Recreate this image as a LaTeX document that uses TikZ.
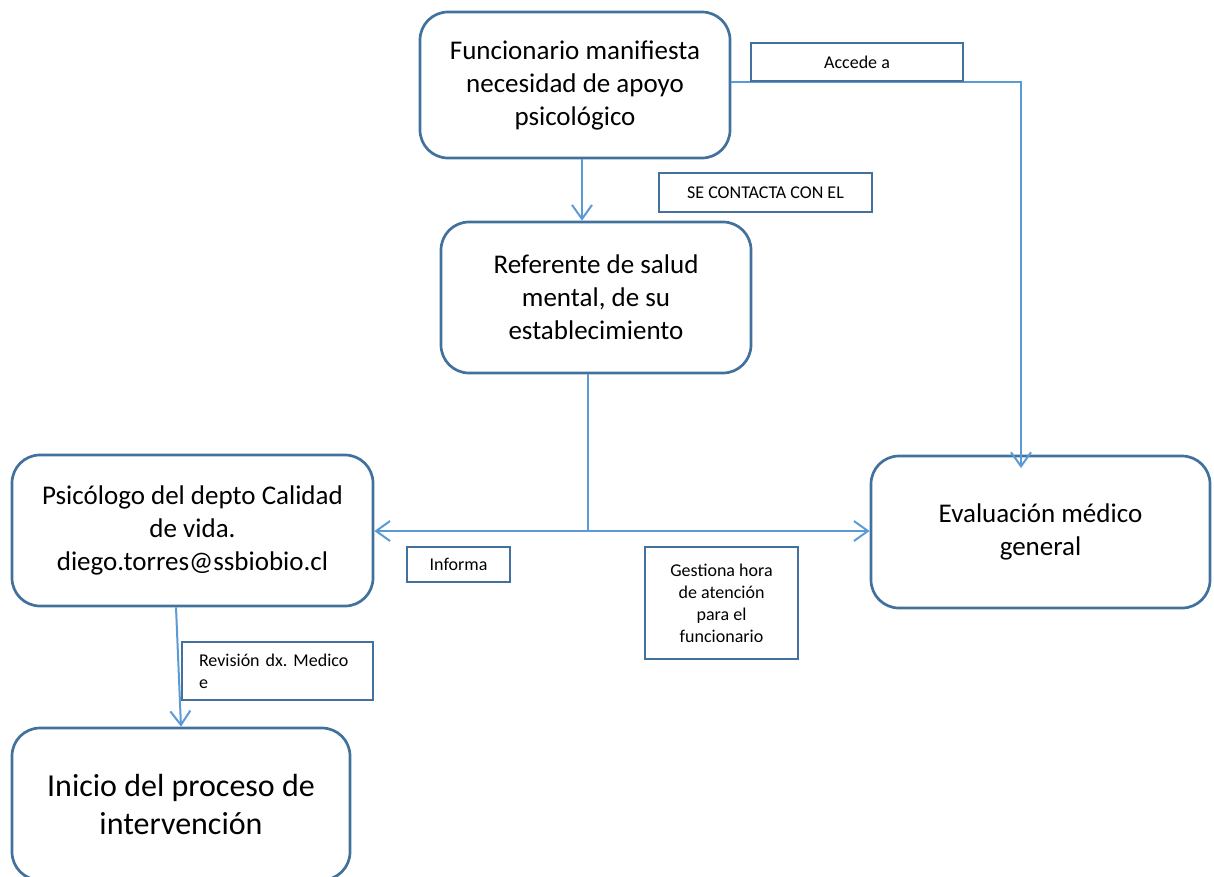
\documentclass[tikz,border=0pt]{standalone}
\usepackage{fontspec}
\setmainfont{Carlito}
\usetikzlibrary{arrows.meta}
\definecolor{boxblue}{RGB}{65,113,156}
\definecolor{linkblue}{RGB}{91,155,213}
\begin{document}
\frenchspacing
\begin{tikzpicture}[x=1pt,y=-1pt,
  bigbox/.style={draw=boxblue, line width=2.7pt, rounded corners=28pt, align=center, inner sep=0pt, font=\fontsize{27}{33}\selectfont},
  lbl/.style={draw=boxblue, line width=2.5pt, align=center, inner sep=0pt, font=\fontsize{18}{22}\selectfont},
  link/.style={draw=linkblue, line width=2pt},
  arr/.style={link, -{Straight Barb[length=14pt,width=20pt]}}]
\useasboundingbox (0,0) rectangle (1214,876);
\clip (0,0) rectangle (1214,876);
% main boxes
\node[bigbox, minimum width=310pt, minimum height=146pt] (top) at (575,85)
  {Funcionario manifiesta\\necesidad de apoyo\\psicológico};
\node[bigbox, minimum width=310pt, minimum height=151pt] (ref) at (596,297.5)
  {Referente de salud\\mental, de su\\establecimiento};
\node[bigbox, minimum width=361pt, minimum height=151pt] (psic) at (192.5,530.5)
  {Psicólogo del depto Calidad\\de vida.\\diego.torres@ssbiobio.cl};
\node[bigbox, minimum width=339pt, minimum height=152pt] (eval) at (1040.5,532)
  {Evaluación médico\\general};
\node[bigbox, minimum width=338pt, minimum height=152pt, font=\fontsize{32}{38}\selectfont] (ini) at (181,804)
  {Inicio del proceso de\\intervención};
% coordinates
\coordinate (acc) at (1021,82);
\coordinate (evalin) at (1021,468);
\coordinate (j) at (588,531);
\coordinate (d1) at (582,0);
\coordinate (p1) at (176,0);
\coordinate (p2) at (181,0);
% connectors
\draw[arr] (top.south -| d1) -- (ref.north -| d1);
\draw[arr] (top.east |- acc) -| (evalin);
\draw[link] (ref.south -| j) -- (j);
\draw[arr] (j) -- (psic.east |- j);
\draw[arr] (j) -- (eval.west |- j);
\draw[arr] (psic.south -| p1) -- (ini.north -| p2);
% labels
\node[lbl, minimum width=212pt, minimum height=38pt] (lacc) at (857,62) {Accede a};
\node[lbl, minimum width=213pt, minimum height=39pt] (lcon) at (765.5,192.5) {SE CONTACTA CON EL};
\node[lbl, minimum width=103pt, minimum height=35pt] (linf) at (458.5,564.5) {Informa};
\node[lbl, minimum width=153pt, minimum height=112pt] (lges) at (721.5,603)
  {Gestiona hora\\de atención\\para el\\funcionario};
\node[lbl, minimum height=58pt, text width=157pt, inner xsep=17pt, align=left] (lrev) at (277.5,671)
  {Revisión dx. Medico\\e};
\end{tikzpicture}
\end{document}
